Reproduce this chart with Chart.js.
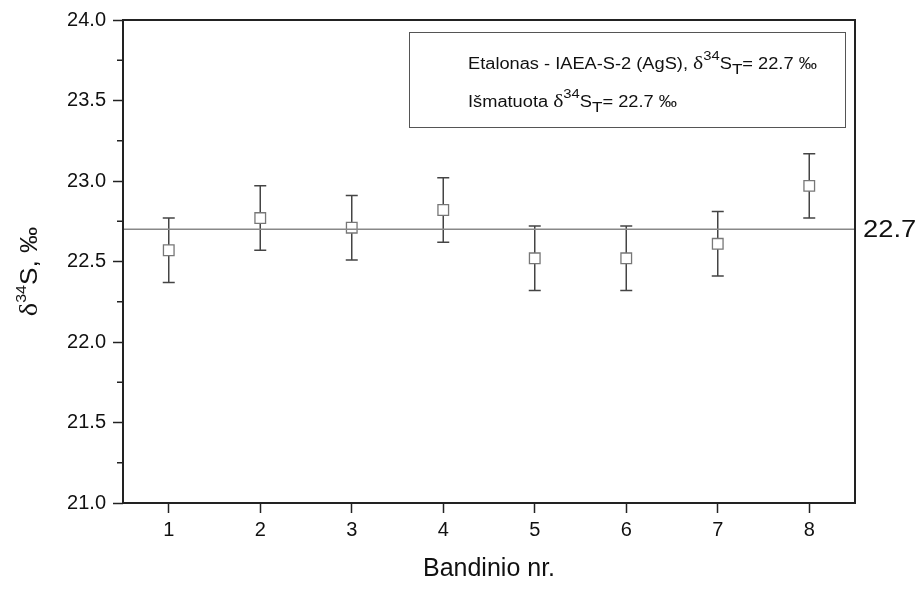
<!DOCTYPE html>
<html>
<head>
<meta charset="utf-8">
<script src="https://cdn.jsdelivr.net/npm/chart.js@4"></script>
<style>
  body { margin: 0; background: #fff; }
  #wrap { width: 924px; height: 590px; }
</style>
</head>
<body>
<div id="wrap"><canvas id="chartSulfur"></canvas></div>
<script>
// data
const sampleNo = [1, 2, 3, 4, 5, 6, 7, 8];
const delta34S = [22.57, 22.77, 22.71, 22.82, 22.52, 22.52, 22.61, 22.97];
const errDown = [0.20, 0.20, 0.20, 0.20, 0.20, 0.20, 0.20, 0.20];
const errUp = [0.20, 0.20, 0.20, 0.20, 0.20, 0.20, 0.20, 0.20];
const referenceValue = 22.7;
const xRange = [0.5, 8.5];
const yRange = [21.0, 24.0];

const SANS = "'Liberation Sans', Arial, sans-serif";
const SERIF = "'Liberation Serif', 'DejaVu Serif', serif";
const STRETCH = 1.14; // the original text is a bit wider than plain Arial

function richWidth(ctx, parts) {
    let w = 0;
    parts.forEach(p => { ctx.font = p.font; w += ctx.measureText(p.t).width; });
    return w * STRETCH;
}
// draws text pieces one after another, sup/sub by dy, stretched horizontally
function drawRich(ctx, parts, x, y) {
    ctx.save();
    ctx.translate(x, y);
    ctx.scale(STRETCH, 1);
    let cx = 0;
    parts.forEach(p => {
        ctx.font = p.font;
        ctx.fillText(p.t, cx, p.dy || 0);
        cx += ctx.measureText(p.t).width;
    });
    ctx.restore();
}

function deltaParts(prefix) {
    return [
        { t: prefix, font: '16px ' + SANS },
        { t: 'δ', font: '19px ' + SERIF },
        { t: '34', font: '13px ' + SANS, dy: -9 },
        { t: 'S', font: '16px ' + SANS },
        { t: 'T', font: '15px ' + SANS, dy: 5 },
        { t: '= 22.7 ‰', font: '16px ' + SANS }
    ];
}
const legendLines = [
    deltaParts('Etalonas - IAEA-S-2 (AgS), '),
    deltaParts('Išmatuota ')
];

const extras = {
    id: 'extras',
    beforeDatasetsDraw(chart) {
        const ctx = chart.ctx;
        const xs = chart.scales.x, ys = chart.scales.y;
        ctx.save();
        ctx.strokeStyle = '#444';
        ctx.lineWidth = 1.5;
        sampleNo.forEach((n, i) => {
            const px = xs.getPixelForValue(n);
            const top = ys.getPixelForValue(delta34S[i] + errUp[i]);
            const bot = ys.getPixelForValue(delta34S[i] - errDown[i]);
            ctx.beginPath();
            ctx.moveTo(px, top); ctx.lineTo(px, bot);
            ctx.moveTo(px - 6, top); ctx.lineTo(px + 6, top);
            ctx.moveTo(px - 6, bot); ctx.lineTo(px + 6, bot);
            ctx.stroke();
        });
        ctx.restore();
    },
    afterDraw(chart) {
        const ctx = chart.ctx;
        const a = chart.chartArea;
        const ys = chart.scales.y;
        ctx.save();
        // frame
        ctx.strokeStyle = '#222';
        ctx.lineWidth = 2;
        ctx.strokeRect(a.left, a.top, a.right - a.left, a.bottom - a.top);
        // minor ticks on y
        ctx.lineWidth = 1.5;
        ctx.beginPath();
        for (let v = yRange[0] + 0.25; v < yRange[1]; v += 0.5) {
            const py = ys.getPixelForValue(v);
            ctx.moveTo(a.left - 6, py); ctx.lineTo(a.left, py);
        }
        ctx.stroke();
        ctx.fillStyle = '#111';
        // reference value label
        ctx.textBaseline = 'middle';
        drawRich(ctx, [{ t: String(referenceValue), font: '24px ' + SANS }], a.right + 8, ys.getPixelForValue(referenceValue) + 1);
        // legend box
        ctx.strokeStyle = '#555';
        ctx.lineWidth = 1;
        ctx.strokeRect(409.5, 32.5, 436, 95);
        ctx.textBaseline = 'alphabetic';
        drawRich(ctx, legendLines[0], 468, 69);
        drawRich(ctx, legendLines[1], 468, 107);
        // y axis title
        const yt = [
            { t: 'δ', font: '25px ' + SERIF },
            { t: '34', font: '14px ' + SANS, dy: -11 },
            { t: 'S, ‰', font: '23px ' + SANS }
        ];
        const w = richWidth(ctx, yt);
        ctx.translate(37, (a.top + a.bottom) / 2 + 10);
        ctx.rotate(-Math.PI / 2);
        drawRich(ctx, yt, -w / 2, 0);
        ctx.restore();
    }
};

const points = sampleNo.map((n, i) => ({ x: n, y: delta34S[i] }));
const refLine = xRange.map(x => ({ x: x, y: referenceValue }));

new Chart(document.getElementById('chartSulfur').getContext('2d'), {
    type: 'scatter',
    data: {
        datasets: [
            {
                type: 'line',
                data: refLine,
                borderColor: '#888',
                borderWidth: 1.5,
                pointRadius: 0
            },
            {
                data: points,
                pointStyle: 'rect',
                pointRadius: 7.5,
                pointBackgroundColor: '#fff',
                pointBorderColor: '#777',
                pointBorderWidth: 1.3
            }
        ]
    },
    options: {
        responsive: true,
        maintainAspectRatio: false,
        animation: false,
        layout: { padding: { top: 20, right: 69, left: 0, bottom: 0 } },
        plugins: {
            legend: { display: false },
            tooltip: { enabled: false }
        },
        scales: {
            x: {
                type: 'linear',
                min: xRange[0],
                max: xRange[1],
                afterFit: s => { s.height = 87; },
                afterBuildTicks: s => { s.ticks = sampleNo.map(v => ({ value: v })); },
                ticks: { color: '#111', font: { family: SANS, size: 20 }, padding: 5 },
                grid: { drawOnChartArea: false, tickLength: 10, tickColor: '#222', tickWidth: 1.5 },
                border: { display: false },
                title: {
                    display: true,
                    text: 'Bandinio nr.',
                    color: '#111',
                    font: { family: SANS, size: 25 },
                    padding: { top: 0, bottom: 6 }
                }
            },
            y: {
                min: yRange[0],
                max: yRange[1],
                afterFit: s => { s.width = 123; },
                ticks: {
                    stepSize: 0.5,
                    color: '#111',
                    font: { family: SANS, size: 20 },
                    padding: 7,
                    callback: v => v.toFixed(1)
                },
                grid: { drawOnChartArea: false, tickLength: 10, tickColor: '#222', tickWidth: 1.5 },
                border: { display: false }
            }
        }
    },
    plugins: [extras]
});
</script>
</body>
</html>
